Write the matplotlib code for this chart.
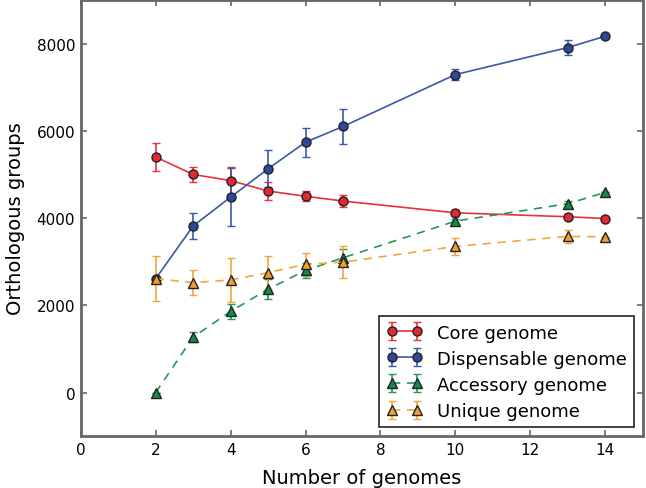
import numpy as np
import matplotlib
matplotlib.use('Agg')
import matplotlib.pyplot as plt

# number of genomes sampled
n_genomes = [2, 3, 4, 5, 6, 7, 10, 13, 14]

core = [5400, 5000, 4860, 4620, 4500, 4390, 4120, 4030, 3990]
core_err = [330, 180, 300, 200, 120, 130, 60, 50, 0]

dispensable = [2610, 3820, 4480, 5130, 5740, 6100, 7290, 7910, 8170]
dispensable_err = [0, 290, 670, 420, 330, 410, 120, 180, 0]

accessory = [0, 1270, 1860, 2370, 2800, 3090, 3930, 4330, 4590]
accessory_err = [0, 115, 170, 230, 180, 190, 60, 60, 0]

unique = [2610, 2520, 2580, 2750, 2940, 2990, 3350, 3580, 3570]
unique_err = [515, 295, 500, 370, 270, 360, 200, 150, 0]

spine_col = '#666666'

fig = plt.figure(figsize=(6.46, 4.89), dpi=100)
ax = fig.add_axes([0.125, 0.106, 0.87, 0.892])

ms = 6.5
ax.errorbar(n_genomes, core, yerr=core_err, color='#e8323c', marker='o',
            markerfacecolor='#e42832', markeredgecolor='#222222', markersize=ms,
            capsize=3, linestyle='-', linewidth=1.2, label='Core genome')
ax.errorbar(n_genomes, dispensable, yerr=dispensable_err, color='#3c58a8', marker='o',
            markerfacecolor='#2b4a9e', markeredgecolor='#222222', markersize=ms,
            capsize=3, linestyle='-', linewidth=1.2, label='Dispensable genome')
ax.errorbar(n_genomes, accessory, yerr=accessory_err, color='#1e9a5a', marker='^',
            markerfacecolor='#138a4a', markeredgecolor='#222222', markersize=ms,
            capsize=3, linestyle='--', linewidth=1.2, dashes=(5, 4), label='Accessory genome')
ax.errorbar(n_genomes, unique, yerr=unique_err, color='#f5a53a', marker='^',
            markerfacecolor='#f0a030', markeredgecolor='#222222', markersize=ms,
            capsize=3, linestyle='--', linewidth=1.2, dashes=(5, 4), label='Unique genome')

ax.set_xlim(0, 15)
ax.set_ylim(-1000, 9000)
ax.set_xticks([0, 2, 4, 6, 8, 10, 12, 14])
ax.set_yticks([0, 2000, 4000, 6000, 8000])

for s in ax.spines.values():
    s.set_color(spine_col)
    s.set_linewidth(2)
ax.tick_params(direction='in', length=4, width=1.2, color=spine_col,
               top=True, right=True, labelsize=11, pad=4)

ax.set_xlabel('Number of genomes', fontsize=14, labelpad=8)
ax.set_ylabel('Orthologous groups', fontsize=14, labelpad=8)

leg = ax.legend(loc='lower right', numpoints=2, fontsize=13, fancybox=False,
                framealpha=1, edgecolor='#222222', borderpad=0.4,
                handletextpad=0.8, labelspacing=0.45, borderaxespad=0.5,
                handlelength=2.0)
leg.get_frame().set_linewidth(1.2)

fig.savefig('out.png', dpi=100)
